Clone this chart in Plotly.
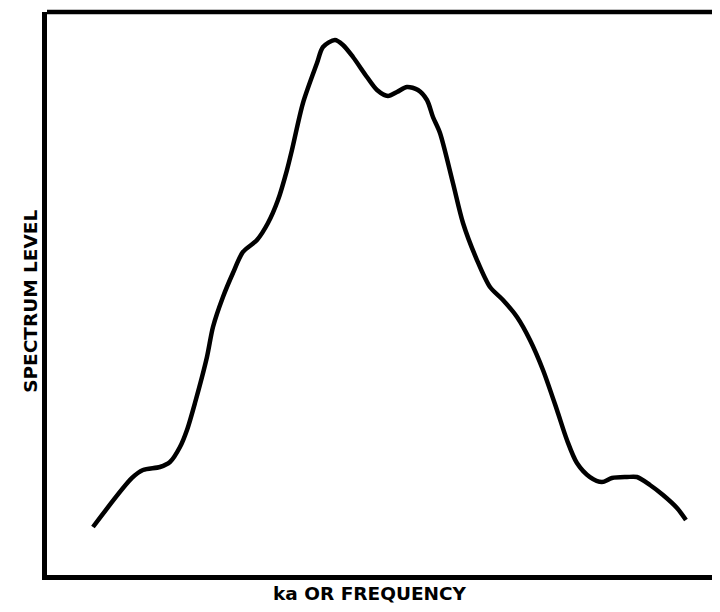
import plotly.graph_objects as go

# Frequency (arbitrary units) and spectrum level (arbitrary units)
freq = [7.11, 12.89, 14.52, 17.04, 18.52, 20.0, 21.04, 22.22, 24.0, 24.89, 26.37, 27.85,
        29.33, 31.41, 33.04, 34.52, 35.85, 36.59, 38.22, 40.30, 41.19, 42.96, 44.15, 45.63,
        47.70, 49.19, 50.81, 52.15, 53.63, 55.26, 56.59, 57.48, 58.52, 60.44, 61.93, 64.0,
        65.93, 67.85, 69.93, 71.85, 73.78, 75.85, 77.33, 78.81, 80.74, 82.52, 84.0, 86.22,
        87.70, 89.63, 91.56, 93.63, 94.96]
level = [9.01, 17.67, 19.08, 19.61, 20.49, 23.14, 26.15, 30.92, 39.05, 44.35, 49.65, 53.89,
         57.60, 59.72, 62.72, 66.78, 72.08, 75.62, 83.92, 90.99, 93.82, 95.05, 94.17, 92.05,
         88.52, 86.22, 85.16, 85.87, 86.75, 86.22, 84.45, 81.45, 78.62, 69.79, 62.72, 56.18,
         51.41, 49.12, 46.11, 42.05, 36.75, 29.68, 24.38, 20.32, 17.84, 16.96, 17.67, 17.84,
         17.84, 16.43, 14.66, 12.37, 10.25]

x_title = "ka OR FREQUENCY"
y_title = "SPECTRUM LEVEL"

fig = go.Figure()
fig.add_trace(go.Scatter(x=freq, y=level, mode="lines",
                         line=dict(color="black", width=4.5, shape="spline", smoothing=0.8),
                         showlegend=False, hoverinfo="skip"))

title_font = dict(family="DejaVu Sans", size=18.5, color="black")

fig.update_layout(
    width=720, height=612,
    margin=dict(l=39, r=0, t=4, b=45),
    paper_bgcolor="white", plot_bgcolor="white",
    xaxis=dict(range=[0.3, 101.19], showgrid=False, zeroline=False, showticklabels=False,
               ticks="", showline=True, linecolor="black", linewidth=4.5, mirror=False),
    yaxis=dict(range=[0.53, 100], showgrid=False, zeroline=False, showticklabels=False,
               ticks="", showline=True, linecolor="black", linewidth=4.5, mirror=False),
    shapes=[dict(type="line", xref="paper", yref="paper", x0=0, x1=1, y0=1, y1=1,
                 line=dict(color="black", width=4.5))],
    annotations=[
        dict(text="<b>" + x_title + "</b>", xref="paper", yref="paper", x=0.474, y=-0.032,
             xanchor="center", yanchor="middle", showarrow=False, font=title_font),
        dict(text="<b>" + y_title + "</b>", xref="paper", yref="paper", x=-0.0235, y=0.487,
             xanchor="center", yanchor="middle", textangle=-90, showarrow=False,
             font=title_font),
    ],
)

fig.write_html("out.html")
